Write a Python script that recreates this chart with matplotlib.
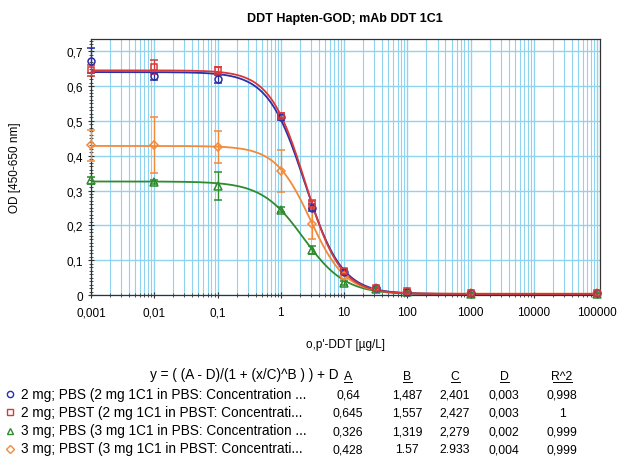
import numpy as np
import matplotlib
matplotlib.use("Agg")
import matplotlib.pyplot as plt
from matplotlib.lines import Line2D
from matplotlib.ticker import MultipleLocator, LogLocator, NullFormatter

plt.rcParams['font.family'] = ['Liberation Sans', 'DejaVu Sans']

# ---- data ----
conc = [0.001, 0.01, 0.1, 1, 3.16, 10, 31.6, 100, 1000, 100000]
series_names = [
    "2 mg; PBS (2 mg 1C1 in PBS: Concentration ...",
    "2 mg; PBST (2 mg 1C1 in PBST: Concentrati...",
    "3 mg; PBS (3 mg 1C1 in PBS: Concentration ...",
    "3 mg; PBST (3 mg 1C1 in PBST: Concentrati...",
]
od_2mg_pbs = [0.673, 0.628, 0.620, 0.510, 0.250, 0.065, 0.020, 0.010, 0.005, 0.005]
od_2mg_pbst = [0.645, 0.655, 0.645, 0.515, 0.260, 0.070, 0.020, 0.012, 0.005, 0.005]
od_3mg_pbs = [0.330, 0.325, 0.312, 0.245, 0.130, 0.035, 0.018, 0.010, 0.004, 0.003]
od_3mg_pbst = [0.430, 0.430, 0.425, 0.355, 0.205, 0.055, 0.020, 0.010, 0.006, 0.005]
err_2mg_pbs = [0.035, 0.010, 0.012, 0.008, 0.010, 0.005, 0.003, 0.002, 0.002, 0.002]
err_2mg_pbst = [0.015, 0.020, 0.010, 0.008, 0.012, 0.005, 0.003, 0.002, 0.002, 0.002]
err_3mg_pbs = [0.010, 0.005, 0.040, 0.008, 0.012, 0.005, 0.003, 0.002, 0.002, 0.002]
err_3mg_pbst = [0.045, 0.080, 0.045, 0.060, 0.045, 0.008, 0.004, 0.002, 0.002, 0.002]
fit_A = [0.64, 0.645, 0.326, 0.428]
fit_B = [1.487, 1.557, 1.319, 1.57]
fit_C = [2.401, 2.427, 2.279, 2.933]
fit_D = [0.003, 0.003, 0.002, 0.004]
fit_R2 = ["0,998", "1", "0,999", "0,999"]
fit_A_txt = ["0,64", "0,645", "0,326", "0,428"]
fit_B_txt = ["1,487", "1,557", "1,319", "1.57"]
fit_C_txt = ["2,401", "2,427", "2,279", "2.933"]
fit_D_txt = ["0,003", "0,003", "0,002", "0,004"]
xtick_vals = [0.001, 0.01, 0.1, 1, 10, 100, 1000, 10000, 100000]
xtick_labels = ["0,001", "0,01", "0,1", "1", "10", "100", "1000", "10000", "100000"]
ytick_vals = [0, 0.1, 0.2, 0.3, 0.4, 0.5, 0.6, 0.7]
ytick_labels = ["0", "0,1", "0,2", "0,3", "0,4", "0,5", "0,6", "0,7"]

ods = [od_2mg_pbs, od_2mg_pbst, od_3mg_pbs, od_3mg_pbst]
errs = [err_2mg_pbs, err_2mg_pbst, err_3mg_pbs, err_3mg_pbst]
colors = ['#2b2fa8', '#d83838', '#2e8b2e', '#f28a3a']
markers = ['o', 's', '^', 'D']
msizes = [5, 5, 5.5, 4.5]

fig = plt.figure(figsize=(6.17, 4.6), dpi=100)
ax = fig.add_axes([0.1475, 0.3565, 0.8245, 0.5565])

xs = np.logspace(-3, 5, 400)
order = [2, 3, 0, 1]
for i in order:
    A, B, C, D = fit_A[i], fit_B[i], fit_C[i], fit_D[i]
    ys = (A - D) / (1 + (xs / C) ** B) + D
    ax.plot(xs, ys, color=colors[i], lw=1.3, zorder=3)
    eb = ax.errorbar(conc, ods[i], yerr=errs[i], fmt=markers[i], ms=msizes[i],
                     mfc='none', mec=colors[i], mew=1.1, ecolor=colors[i],
                     elinewidth=0.9, capsize=3, zorder=4)
    for art in eb.lines[0:1] + tuple(eb.lines[1]) + tuple(eb.lines[2]):
        art.set_clip_on(False)

ax.set_xscale('log')
ax.set_xlim(0.001, 110000)
ax.set_ylim(0, 0.735)
ax.set_xticks(xtick_vals)
ax.set_xticklabels(xtick_labels)
ax.xaxis.set_minor_locator(LogLocator(base=10, subs=np.arange(2, 10)))
ax.xaxis.set_minor_formatter(NullFormatter())
ax.set_yticks(ytick_vals)
ax.set_yticklabels(ytick_labels)
ax.yaxis.set_minor_locator(MultipleLocator(0.01))

grid_c = '#8fd3ee'
ax.grid(True, which='major', axis='both', color=grid_c, lw=1.0, zorder=0)
ax.grid(True, which='minor', axis='x', color=grid_c, lw=0.8, zorder=0)
ax.set_axisbelow(True)
for s in ax.spines.values():
    s.set_color('#333333')
    s.set_linewidth(0.9)
ax.tick_params(axis='both', which='major', labelsize=8.5, length=4, color='#333333', direction='inout')
ax.tick_params(axis='x', which='major', pad=6)
ax.tick_params(axis='both', which='minor', length=2.5, color='#333333', direction='inout')

ax.set_title("DDT Hapten-GOD; mAb DDT 1C1", fontsize=9, fontweight='bold', pad=13)
ax.set_ylabel("OD [450-650 nm]", fontsize=8.5, labelpad=33)
ax.set_xlabel("o,p'-DDT [µg/L]", fontsize=8.5, labelpad=14)

# ---- fit table ----
fs_txt = 9.8
fs_num = 8.8
y0 = 1 - 376 / 460
dy = 18.2 / 460
base_off = 3.5 / 460
fig.text(338 / 617, y0 - base_off, "y = ( (A - D)/(1 + (x/C)^B ) ) + D", ha='right', va='baseline', fontsize=fs_txt)
col_x = [348, 407, 455, 504, 562]
heads = ["A", "B", "C", "D", "R^2"]
for cx, h in zip(col_x, heads):
    fig.text(cx / 617, y0 - base_off, h, ha='center', va='baseline', fontsize=fs_num)
    half = (4.5 if len(h) == 1 else 9.5) / 617
    fig.add_artist(Line2D([cx / 617 - half, cx / 617 + half],
                          [y0 - 6.5 / 460] * 2, transform=fig.transFigure, color='black', lw=0.7))
cols_txt = [fit_A_txt, fit_B_txt, fit_C_txt, fit_D_txt, fit_R2]
for i in range(4):
    yy = y0 - 1.0 / 460 - (i + 1) * dy
    fig.add_artist(Line2D([10 / 617], [yy], transform=fig.transFigure, marker=markers[i],
                          ms=msizes[i] - 0.5, mfc='none', mec=colors[i], mew=1.0))
    fig.text(21 / 617, yy - base_off, series_names[i], ha='left', va='baseline', fontsize=fs_txt)
    for cx, col in zip(col_x, cols_txt):
        fig.text(cx / 617, yy - base_off, col[i], ha='center', va='baseline', fontsize=fs_num)

fig.savefig("out.png", dpi=100)
